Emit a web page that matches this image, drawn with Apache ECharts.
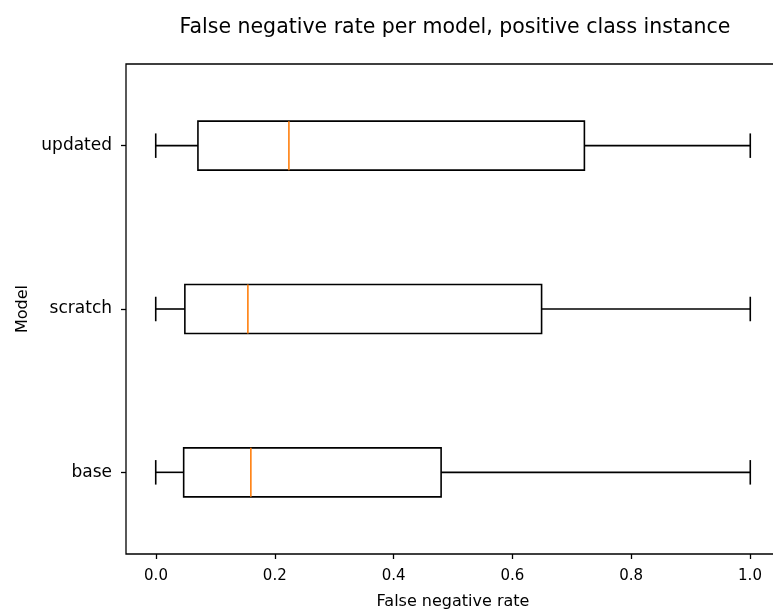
<!DOCTYPE html>
<html>
<head>
<meta charset="utf-8">
<script src="https://cdn.jsdelivr.net/npm/echarts@6/dist/echarts.min.js"></script>
<style>html,body{margin:0;padding:0;background:#fff;}#c{width:773px;height:615px;}</style>
</head>
<body>
<div id="c"></div>
<script>
var categories = ['base', 'scratch', 'updated'];
var mins    = [0, 0, 0];
var q1s     = [0.047, 0.049, 0.071];
var medians = [0.160, 0.155, 0.224];
var q3s     = [0.480, 0.649, 0.721];
var maxs    = [1, 1, 1];
var xTickInterval = 0.2;

var boxData = categories.map(function (c, i) {
  return [i, mins[i], q1s[i], medians[i], q3s[i], maxs[i]];
});

var FONT = 'DejaVu Sans';
var chart = echarts.init(document.getElementById('c'), null, {renderer: 'canvas'});
chart.setOption({
  animation: false,
  backgroundColor: '#fff',
  title: {
    text: 'False negative rate per model, positive class instance',
    left: 450, top: 12, textAlign: 'center',
    textStyle: {fontFamily: FONT, fontSize: 20.5, fontWeight: 'normal', color: '#000'}
  },
  grid: [
    {left: 126, top: 64, width: 654, height: 490, show: true, borderColor: '#000', borderWidth: 1.3, backgroundColor: 'transparent', outerBoundsMode: 'none', containLabel: false},
    {left: 156, top: 64, width: 594, height: 490, show: false, outerBoundsMode: 'none', containLabel: false}
  ],
  xAxis: [
    {type: 'value', gridIndex: 0, min: -0.05, max: 1.05, axisLine: {show: false, onZero: false}, axisTick: {show: false}, axisLabel: {show: false}, splitLine: {show: false}},
    {type: 'value', gridIndex: 1, min: 0, max: 1, interval: xTickInterval,
     name: 'False negative rate', nameLocation: 'middle', nameGap: 40,
     nameTextStyle: {fontFamily: FONT, fontSize: 16, color: '#000'},
     axisLine: {show: false, onZero: false},
     axisTick: {show: true, length: 5, lineStyle: {color: '#000', width: 1.3}},
     axisLabel: {margin: 15, fontFamily: FONT, fontSize: 15, color: '#000', formatter: function (v) { return v.toFixed(1); }},
     splitLine: {show: false}}
  ],
  yAxis: [
    {type: 'category', gridIndex: 0, data: categories,
     name: 'Model', nameLocation: 'middle', nameGap: 94, nameRotate: 90,
     nameTextStyle: {fontFamily: FONT, fontSize: 16, color: '#000'},
     axisLine: {show: false, onZero: false},
     axisTick: {show: true, alignWithLabel: true, length: 5, lineStyle: {color: '#000', width: 1.3}},
     axisLabel: {margin: 14, fontFamily: FONT, fontSize: 17, color: '#000'},
     splitLine: {show: false}},
    {type: 'value', gridIndex: 1, show: false, axisLine: {onZero: false}}
  ],
  series: [{
    type: 'custom',
    xAxisIndex: 0, yAxisIndex: 0,
    data: boxData,
    encode: {x: [1, 2, 3, 4, 5], y: 0},
    clip: false,
    renderItem: function (params, api) {
      var cat = api.value(0);
      var band = api.size([0, 1])[1];
      var bh = band * 0.3, half = bh / 2, cap = bh / 4;
      var yc = api.coord([0, cat])[1];
      var x = [1, 2, 3, 4, 5].map(function (d) { return api.coord([api.value(d), cat])[0]; });
      var ls = {stroke: '#000', lineWidth: 1.6, fill: null};
      return {
        type: 'group',
        children: [
          {type: 'line', shape: {x1: x[0], y1: yc, x2: x[1], y2: yc}, style: ls},
          {type: 'line', shape: {x1: x[3], y1: yc, x2: x[4], y2: yc}, style: ls},
          {type: 'line', shape: {x1: x[0], y1: yc - cap, x2: x[0], y2: yc + cap}, style: ls},
          {type: 'line', shape: {x1: x[4], y1: yc - cap, x2: x[4], y2: yc + cap}, style: ls},
          {type: 'rect', shape: {x: x[1], y: yc - half, width: x[3] - x[1], height: bh}, style: {stroke: '#000', lineWidth: 1.6, fill: 'rgba(0,0,0,0)'}},
          {type: 'line', shape: {x1: x[2], y1: yc - half, x2: x[2], y2: yc + half}, style: {stroke: '#ff7f0e', lineWidth: 1.6}}
        ]
      };
    }
  }]
});
</script>
</body>
</html>
